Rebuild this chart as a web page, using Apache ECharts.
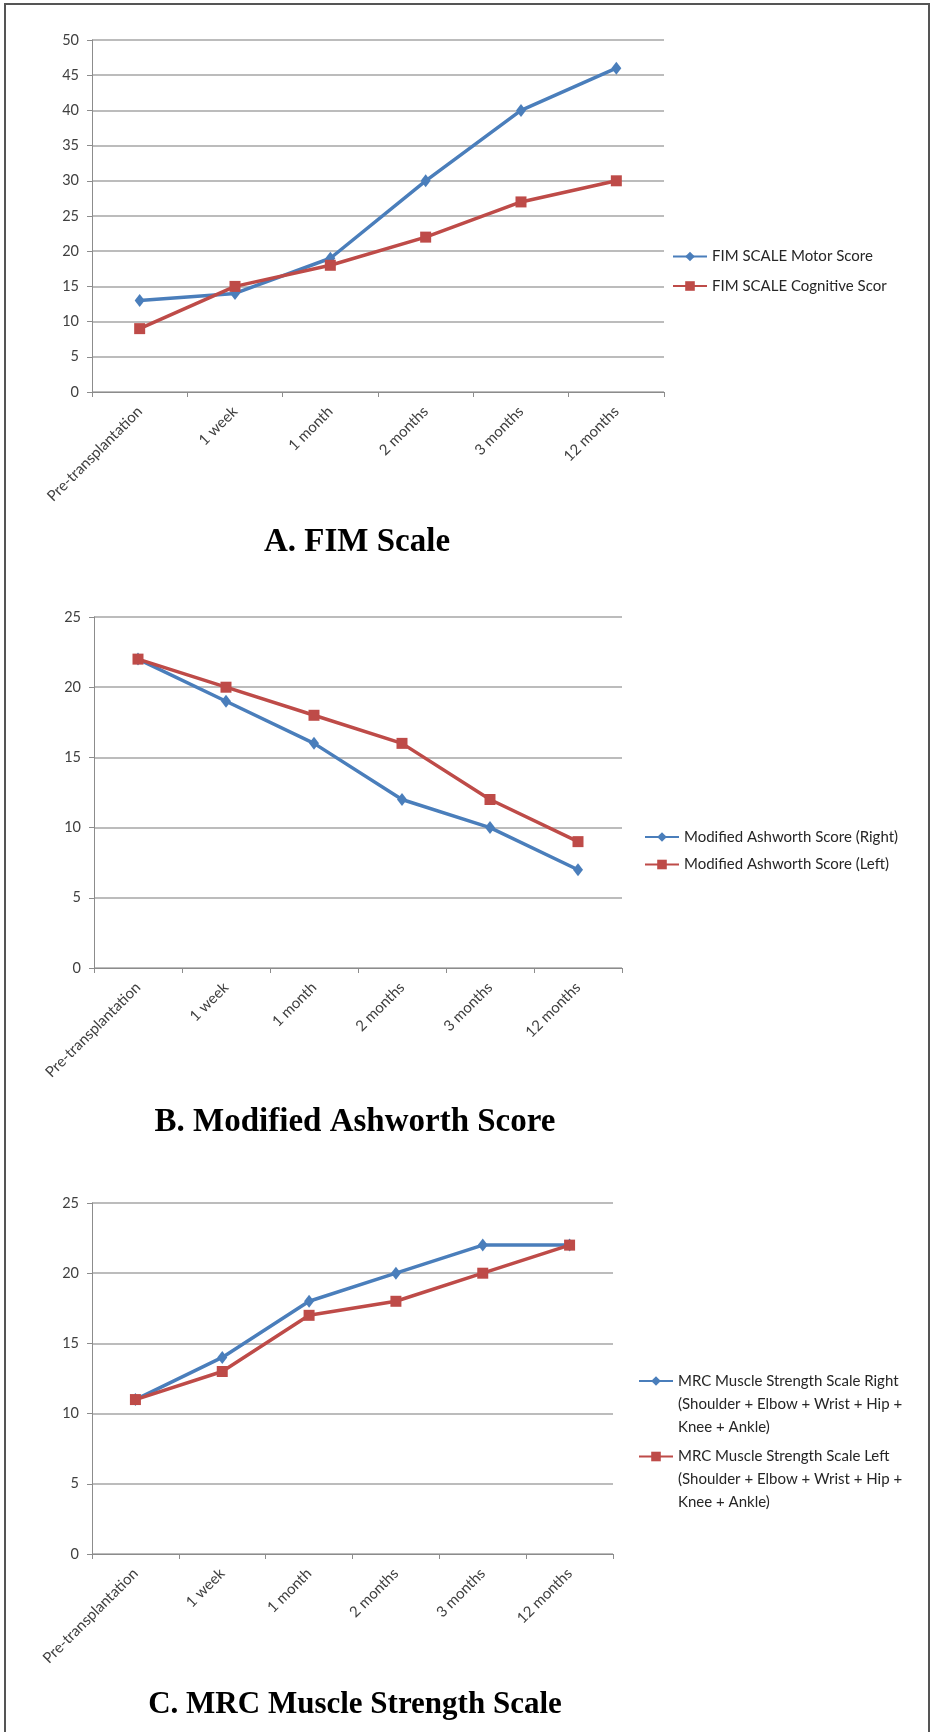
<!DOCTYPE html>
<html>
<head>
<meta charset="utf-8">
<script src="https://cdn.jsdelivr.net/npm/echarts@6/dist/echarts.min.js"></script>
<style>
html,body{margin:0;padding:0;background:#fff;}
#c{width:934px;height:1732px;}
</style>
</head>
<body>
<div id="c"></div>
<script>
const categories = ['Pre-transplantation', '1 week', '1 month', '2 months', '3 months', '12 months'];

const fimMotor = [13, 14, 19, 30, 40, 46];
const fimCognitive = [9, 15, 18, 22, 27, 30];

const ashRight = [22, 19, 16, 12, 10, 7];
const ashLeft = [22, 20, 18, 16, 12, 9];

const mrcRight = [11, 14, 18, 20, 22, 22];
const mrcLeft = [11, 13, 17, 18, 20, 22];

const names = {
  fimMotor: 'FIM SCALE Motor Score',
  fimCog: 'FIM SCALE Cognitive Score',
  ashR: 'Modified Ashworth Score (Right)',
  ashL: 'Modified Ashworth Score (Left)',
  mrcR: 'MRC Muscle Strength Scale Right (Shoulder + Elbow + Wrist + Hip + Knee + Ankle)',
  mrcL: 'MRC Muscle Strength Scale Left (Shoulder + Elbow + Wrist + Hip + Knee + Ankle)'
};

const titles = ['A. FIM Scale', 'B. Modified Ashworth Score', 'C. MRC Muscle Strength Scale'];

const BLUE = '#4A7EBB';
const RED = '#BE4B48';
const FONT = 'Lato, "Open Sans", sans-serif';
const LABEL_COLOR = '#404040';
const SERIF = '"Liberation Serif", "DejaVu Serif", serif';

const grids = [
  {left: 92, top: 40, width: 572, height: 352},
  {left: 94, top: 617, width: 528, height: 351},
  {left: 92, top: 1203, width: 521, height: 351}
];

function xAxis(i) {
  return {
    type: 'category', gridIndex: i, data: categories, boundaryGap: true,
    axisLine: {lineStyle: {color: '#8c8c8c', width: 1}},
    axisTick: {show: true, length: 5, lineStyle: {color: '#8c8c8c'}},
    axisLabel: {rotate: 45, color: LABEL_COLOR, fontFamily: FONT, fontSize: 15, margin: 17, interval: 0}
  };
}
function yAxis(i, max, interval) {
  return {
    type: 'value', gridIndex: i, min: 0, max: max, interval: interval,
    axisLine: {show: true, lineStyle: {color: '#8c8c8c', width: 1}},
    axisTick: {show: true, length: 5, lineStyle: {color: '#8c8c8c'}},
    axisLabel: {color: LABEL_COLOR, fontFamily: FONT, fontSize: 14.5, margin: 13},
    splitLine: {show: true, lineStyle: {color: '#a6a6a6', width: 1.5}}
  };
}
function line(name, data, i, color, symbol) {
  return {
    type: 'line', name: name, data: data, xAxisIndex: i, yAxisIndex: i,
    symbol: symbol, symbolSize: symbol === 'diamond' ? [10, 13] : 11,
    lineStyle: {color: color, width: 3.5},
    itemStyle: {color: color},
    animation: false
  };
}
// two blank lines first so that the legend marker sits beside the first text line
function wrapMRC(n) {
  return '\n\n' + n.replace(' (Shoulder', '\n(Shoulder').replace('Hip + Knee', 'Hip +\nKnee');
}
const legendText = {fontFamily: FONT, fontSize: 15, color: '#262626'};

const chart = echarts.init(document.getElementById('c'), null, {renderer: 'canvas'});
chart.setOption({
  backgroundColor: '#fff',
  animation: false,
  grid: grids,
  xAxis: [xAxis(0), xAxis(1), xAxis(2)],
  yAxis: [yAxis(0, 50, 5), yAxis(1, 25, 5), yAxis(2, 25, 5)],
  legend: [
    {data: [names.fimMotor, names.fimCog], orient: 'vertical', left: 667, top: 244, itemGap: 14.5,
     itemWidth: 34, itemHeight: 12,
     textStyle: Object.assign({}, legendText, {width: 176, overflow: 'truncate', ellipsis: ''})},
    {data: [names.ashR, names.ashL], orient: 'vertical', left: 639, top: 824.5, itemGap: 12.5,
     itemWidth: 34, itemHeight: 12,
     textStyle: legendText},
    {data: [names.mrcR], orient: 'vertical', left: 633, top: 1318.5,
     itemWidth: 34, itemHeight: 12,
     formatter: wrapMRC,
     textStyle: Object.assign({}, legendText, {lineHeight: 23})},
    {data: [names.mrcL], orient: 'vertical', left: 633, top: 1394,
     itemWidth: 34, itemHeight: 12,
     formatter: wrapMRC,
     textStyle: Object.assign({}, legendText, {lineHeight: 23})}
  ],
  title: [
    {text: titles[0], left: 352, top: 521, textAlign: 'center',
     textStyle: {fontFamily: SERIF, fontWeight: 'bold', fontSize: 33, color: '#000'}},
    {text: titles[1], left: 350, top: 1101, textAlign: 'center',
     textStyle: {fontFamily: SERIF, fontWeight: 'bold', fontSize: 33, color: '#000'}},
    {text: titles[2], left: 350, top: 1684, textAlign: 'center',
     textStyle: {fontFamily: SERIF, fontWeight: 'bold', fontSize: 31, color: '#000'}}
  ],
  graphic: [
    {type: 'rect', shape: {x: 5, y: 4, width: 924, height: 1760},
     style: {fill: 'none', stroke: '#555', lineWidth: 2}, silent: true}
  ],
  series: [
    line(names.fimMotor, fimMotor, 0, BLUE, 'diamond'),
    line(names.fimCog, fimCognitive, 0, RED, 'rect'),
    line(names.ashR, ashRight, 1, BLUE, 'diamond'),
    line(names.ashL, ashLeft, 1, RED, 'rect'),
    line(names.mrcR, mrcRight, 2, BLUE, 'diamond'),
    line(names.mrcL, mrcLeft, 2, RED, 'rect')
  ]
});
</script>
</body>
</html>
